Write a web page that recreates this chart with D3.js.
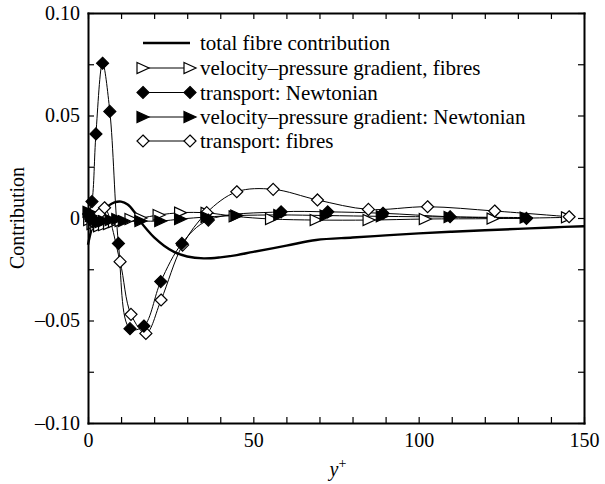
<!DOCTYPE html>
<html lang="en">
<head>
    <meta charset="UTF-8">
    <title>Contribution</title>
</head>
<body style="margin:0">
    <script src="https://d3js.org/d3.v7.min.js"></script>
    <script>
        // y+ positions and values for each curve
        var totalX = [0, 1, 2, 4, 6, 8, 10, 12, 14, 16, 18, 20, 23, 26, 30, 35, 40, 45, 50, 60, 69, 80, 90, 100, 110, 120, 130, 140, 150];
        var totalY = [-0.013, -0.006, -0.001, 0.003, 0.0058, 0.0076, 0.008, 0.0066, 0.003, -0.002, -0.006, -0.0095, -0.0135, -0.0165, -0.0188, -0.0197, -0.0192, -0.0181, -0.0165, -0.0135, -0.0107, -0.0095, -0.0085, -0.0075, -0.0067, -0.006, -0.0053, -0.0046, -0.004];

        var vpgFibX = [0.5, 1.5, 2.5, 3.5, 5, 6.5, 8, 10, 13, 16, 21.5, 28, 36, 44.5, 55.5, 69, 85, 102, 122.5, 145];
        var vpgFibY = [-0.001, -0.003, -0.0035, -0.004, -0.0035, -0.003, -0.002, -0.0015, -0.0005, 0.0, 0.0015, 0.0026, 0.0025, 0.0008, -0.0005, -0.001, -0.001, -0.0005, -0.0003, 0.0003];

        var trNewtX = [0.2, 1.2, 2.4, 4.4, 6.6, 9.2, 12.7, 16.9, 22, 28.4, 36.4, 58.4, 72.5, 89.2, 109.5, 132.6];
        var trNewtY = [0.002, 0.008, 0.041, 0.0755, 0.052, -0.0124, -0.054, -0.0527, -0.031, -0.0124, -0.001, 0.003, 0.003, 0.0023, 0.0006, -0.0002];

        var vpgNewtX = [0.3, 1, 2, 3, 4, 5, 7, 9, 11, 16, 22, 28, 36, 45, 58, 72, 89, 109.5, 132.5];
        var vpgNewtY = [0.003, 0.001, -0.001, -0.002, -0.002, -0.0015, -0.001, -0.0005, -0.0015, -0.0015, -0.0015, -0.0005, 0.0005, 0.0012, 0.0015, 0.0012, 0.0008, 0.0005, 0.0002];

        var trFibX = [0.5, 1.5, 2.5, 3.5, 5, 9.7, 13, 17.5, 22.1, 28.6, 35.9, 45, 56, 69.4, 84.8, 102.7, 123, 145.5];
        var trFibY = [0.0, -0.002, 0.0, 0.002, 0.005, -0.0213, -0.047, -0.0563, -0.04, -0.0132, 0.0026, 0.0128, 0.014, 0.0088, 0.0042, 0.0055, 0.0034, 0.0006];

        var legendLabels = ["total fibre contribution", "velocity\u2013pressure gradient, fibres", "transport: Newtonian", "velocity\u2013pressure gradient: Newtonian", "transport: fibres"];
        var xTicks = [0, 10, 20, 30, 40, 50, 60, 70, 80, 90, 100, 110, 120, 130, 140, 150];
        var xLabels = [0, 50, 100, 150];
        var yTicks = [-0.1, -0.075, -0.05, -0.025, 0, 0.025, 0.05, 0.075, 0.1];
        var yLabels = {"0.1": "0.10", "0.05": "0.05", "0": "0", "-0.05": "\u20130.05", "-0.1": "\u20130.10"};

        const width = 605, height = 484;
        const mLeft = 88, mRight = 584, mTop = 13, mBottom = 423;
        const serif = "Liberation Serif";

        const svg = d3.select("body").append("svg")
            .attr("width", width)
            .attr("height", height);

        var x = d3.scaleLinear().domain([0, 150]).range([mLeft, mRight]);
        var y = d3.scaleLinear().domain([-0.1, 0.1]).range([mBottom, mTop]);

        function pts(xs, ys) {
            return xs.map(function(v, i) { return [v, ys[i]]; });
        }

        var line = d3.line()
            .x(function(d) { return x(d[0]); })
            .y(function(d) { return y(d[1]); })
            .curve(d3.curveCatmullRom.alpha(0.5));

        // marker shapes
        function diamond(cx, cy) {
            var s = 6;
            return "M" + cx + "," + (cy - s) + "L" + (cx + s) + "," + cy + "L" + cx + "," + (cy + s) + "L" + (cx - s) + "," + cy + "Z";
        }
        function triangle(cx, cy) {
            return "M" + (cx - 6) + "," + (cy - 5.5) + "L" + (cx + 6) + "," + cy + "L" + (cx - 6) + "," + (cy + 5.5) + "Z";
        }

        var series = [
            { data: pts(vpgFibX, vpgFibY), shape: triangle, fill: "#fff" },
            { data: pts(trFibX, trFibY), shape: diamond, fill: "#fff" },
            { data: pts(vpgNewtX, vpgNewtY), shape: triangle, fill: "#000" },
            { data: pts(trNewtX, trNewtY), shape: diamond, fill: "#000" }
        ];

        // thin curves first
        series.forEach(function(s) {
            svg.append("path")
                .attr("d", line(s.data))
                .attr("fill", "none")
                .attr("stroke", "#000")
                .attr("stroke-width", 1);
        });

        // thick total line
        svg.append("path")
            .attr("d", line(pts(totalX, totalY)))
            .attr("fill", "none")
            .attr("stroke", "#000")
            .attr("stroke-width", 2.4);

        series.forEach(function(s) {
            svg.append("g").selectAll("path")
                .data(s.data)
                .enter()
                .append("path")
                .attr("d", function(d) { return s.shape(x(d[0]), y(d[1])); })
                .attr("fill", s.fill)
                .attr("stroke", "#000")
                .attr("stroke-width", 1.2);
        });

        // axes, ticks pointing inwards on all four sides
        var fmtX = function(d) { return xLabels.indexOf(d) >= 0 ? d : ""; };
        var fmtY = function(d) { var k = String(+d.toFixed(3)); return yLabels[k] || ""; };

        var gB = svg.append("g").attr("transform", "translate(0," + mBottom + ")")
            .call(d3.axisBottom(x).tickValues(xTicks).tickSizeInner(-6).tickSizeOuter(0).tickPadding(10).tickFormat(fmtX));
        var gT = svg.append("g").attr("transform", "translate(0," + mTop + ")")
            .call(d3.axisTop(x).tickValues(xTicks).tickSizeInner(-6).tickSizeOuter(0).tickFormat(""));
        var gL = svg.append("g").attr("transform", "translate(" + mLeft + ",0)")
            .call(d3.axisLeft(y).tickValues(yTicks).tickSizeInner(-6).tickSizeOuter(0).tickPadding(8).tickFormat(fmtY));
        var gR = svg.append("g").attr("transform", "translate(" + mRight + ",0)")
            .call(d3.axisRight(y).tickValues(yTicks).tickSizeInner(-6).tickSizeOuter(0).tickFormat(""));

        [gB, gT, gL, gR].forEach(function(g) {
            g.attr("font-family", serif).attr("font-size", 20);
            g.select(".domain").attr("stroke-width", 2).attr("stroke-linecap", "square");
            g.selectAll(".tick line").attr("stroke-width", 1.2);
            g.selectAll(".tick text").attr("fill", "#000");
        });

        // axis titles
        svg.append("text")
            .attr("transform", "translate(24," + ((mTop + mBottom) / 2) + ") rotate(-90)")
            .attr("text-anchor", "middle")
            .style("font-family", serif)
            .style("font-size", "20px")
            .text("Contribution");

        var xt = svg.append("text")
            .attr("x", 338)
            .attr("y", 476)
            .attr("text-anchor", "middle")
            .style("font-family", serif)
            .style("font-size", "20px");
        xt.append("tspan").style("font-style", "italic").text("y");
        xt.append("tspan").attr("dy", -8).style("font-size", "14px").text("+");

        // legend
        var legY = [43, 68, 92.5, 117, 141];
        var legShapes = [null, triangle, diamond, triangle, diamond];
        var legFill = [null, "#fff", "#000", "#000", "#fff"];
        var lx0 = 143, lx1 = 190;
        legendLabels.forEach(function(lab, i) {
            var ly = legY[i];
            svg.append("line")
                .attr("x1", lx0).attr("x2", lx1).attr("y1", ly).attr("y2", ly)
                .attr("stroke", "#000")
                .attr("stroke-width", i === 0 ? 2.4 : 1);
            if (legShapes[i]) {
                [lx0, lx1].forEach(function(px) {
                    svg.append("path")
                        .attr("d", legShapes[i](px, ly))
                        .attr("fill", legFill[i])
                        .attr("stroke", "#000")
                        .attr("stroke-width", 1.2);
                });
            }
            svg.append("text")
                .attr("x", 200)
                .attr("y", ly + 7)
                .style("font-family", serif)
                .style("font-size", "21px")
                .text(lab);
        });
    </script>
</body>
</html>
